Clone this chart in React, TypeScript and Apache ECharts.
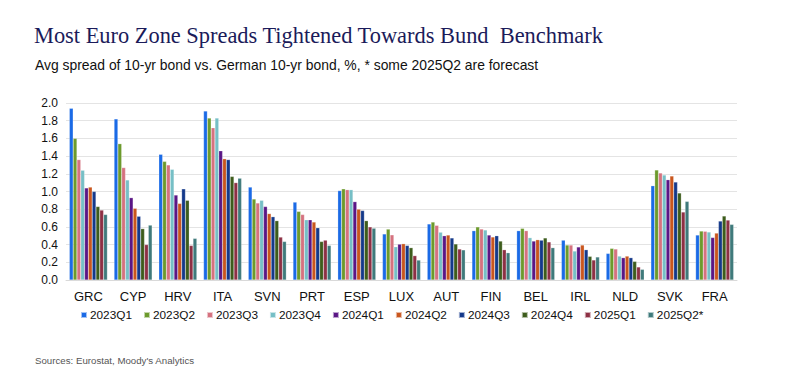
import React, { useEffect, useRef } from "react";
import * as echarts from "echarts";

const categories = ["GRC", "CYP", "HRV", "ITA", "SVN", "PRT", "ESP", "LUX", "AUT", "FIN", "BEL", "IRL", "NLD", "SVK", "FRA"];
const seriesNames = ["2023Q1", "2023Q2", "2023Q3", "2023Q4", "2024Q1", "2024Q2", "2024Q3", "2024Q4", "2025Q1", "2025Q2*"];
const colors = ["#1a6ae6", "#6c9a2c", "#d5727f", "#76bfc6", "#5a1685", "#c9561d", "#14398a", "#3d5c1c", "#8d3044", "#3f7a7b"];

// values per country, in series order 2023Q1..2025Q2
const GRC = [1.94, 1.60, 1.36, 1.24, 1.04, 1.05, 1.00, 0.83, 0.79, 0.74];
const CYP = [1.82, 1.54, 1.27, 1.13, 0.93, 0.81, 0.72, 0.58, 0.40, 0.62];
const HRV = [1.42, 1.34, 1.30, 1.25, 0.96, 0.865, 1.03, 0.90, 0.39, 0.47];
const ITA = [1.91, 1.83, 1.72, 1.83, 1.46, 1.37, 1.36, 1.17, 1.10, 1.15];
const SVN = [1.05, 0.915, 0.87, 0.90, 0.83, 0.75, 0.715, 0.67, 0.485, 0.435];
const PRT = [0.88, 0.775, 0.74, 0.68, 0.68, 0.655, 0.59, 0.435, 0.45, 0.39];
const ESP = [1.01, 1.03, 1.02, 1.02, 0.885, 0.80, 0.785, 0.67, 0.60, 0.585];
const LUX = [0.52, 0.575, 0.51, 0.375, 0.405, 0.41, 0.39, 0.365, 0.275, 0.225];
const AUT = [0.633, 0.655, 0.617, 0.54, 0.50, 0.508, 0.475, 0.407, 0.35, 0.34];
const FIN = [0.557, 0.60, 0.576, 0.565, 0.508, 0.486, 0.50, 0.44, 0.342, 0.308];
const BEL = [0.557, 0.583, 0.557, 0.478, 0.44, 0.455, 0.45, 0.475, 0.43, 0.365];
const IRL = [0.45, 0.395, 0.395, 0.327, 0.373, 0.395, 0.342, 0.267, 0.226, 0.26];
const NLD = [0.30, 0.357, 0.35, 0.27, 0.252, 0.27, 0.252, 0.21, 0.147, 0.12];
const SVK = [1.065, 1.243, 1.209, 1.186, 1.133, 1.175, 1.107, 0.983, 0.768, 0.888];
const FRA = [0.508, 0.553, 0.55, 0.542, 0.48, 0.53, 0.666, 0.723, 0.677, 0.628];

const byCountry = [GRC, CYP, HRV, ITA, SVN, PRT, ESP, LUX, AUT, FIN, BEL, IRL, NLD, SVK, FRA];
const yTicks = [0, 0.2, 0.4, 0.6, 0.8, 1.0, 1.2, 1.4, 1.6, 1.8, 2.0];

export default function App() {
  const ref = useRef<HTMLDivElement>(null);
  useEffect(() => {
    if (!ref.current) return;
    const chart = echarts.init(ref.current, null, { renderer: "svg" });
    const series = seriesNames.map((name, i) => ({
      name,
      type: "bar" as const,
      data: byCountry.map((c) => c[i]),
      itemStyle: { color: colors[i], borderColor: "rgba(255,255,255,0.6)", borderWidth: 0.4 },
      barGap: "0%",
      barCategoryGap: "15%",
    }));
    chart.setOption({
      animation: false,
      backgroundColor: "#ffffff",
      title: [
        {
          text: "Most Euro Zone Spreads Tightened Towards Bund  Benchmark",
          left: 29,
          top: 19,
          textStyle: { fontFamily: "Liberation Serif", fontSize: 22.4, fontWeight: "normal", color: "#1b1b5a" },
        },
        {
          text: "Avg spread of 10-yr bond vs. German 10-yr bond, %, * some 2025Q2 are forecast",
          left: 30,
          top: 53,
          textStyle: { fontFamily: "Liberation Sans", fontSize: 13.9, fontWeight: "normal", color: "#111" },
        },
        {
          text: "Sources: Eurostat, Moody's Analytics",
          left: 30,
          top: 350,
          textStyle: { fontFamily: "Liberation Sans", fontSize: 9.7, fontWeight: "normal", color: "#555" },
        },
      ],
      legend: {
        top: 304,
        left: 75,
        itemWidth: 6,
        itemHeight: 6,
        itemGap: 11,
        icon: "rect",
        textStyle: { fontFamily: "Liberation Sans", fontSize: 11.8, color: "#111", padding: [0, 0, 0, -2] },
        data: seriesNames,
      },
      grid: { left: 66, right: 62, top: 103, bottom: 109 },
      xAxis: {
        type: "category",
        data: categories,
        axisLine: { show: true, lineStyle: { color: "#d9d9d9" } },
        axisTick: { show: false },
        axisLabel: { fontFamily: "Liberation Sans", fontSize: 13, color: "#111", margin: 10 },
      },
      yAxis: {
        type: "value",
        min: yTicks[0],
        max: yTicks[yTicks.length - 1],
        interval: 0.2,
        axisLine: { show: false },
        axisTick: { show: false },
        splitLine: { lineStyle: { color: "#e4e4e4", width: 1 } },
        axisLabel: {
          fontFamily: "Liberation Sans",
          fontSize: 12,
          color: "#111",
          margin: 8,
          formatter: (v: number) => v.toFixed(1),
        },
      },
      series,
    });
    return () => chart.dispose();
  }, []);
  return <div ref={ref} style={{ position: "fixed", left: 0, top: 0, width: 799, height: 389 }} />;
}
